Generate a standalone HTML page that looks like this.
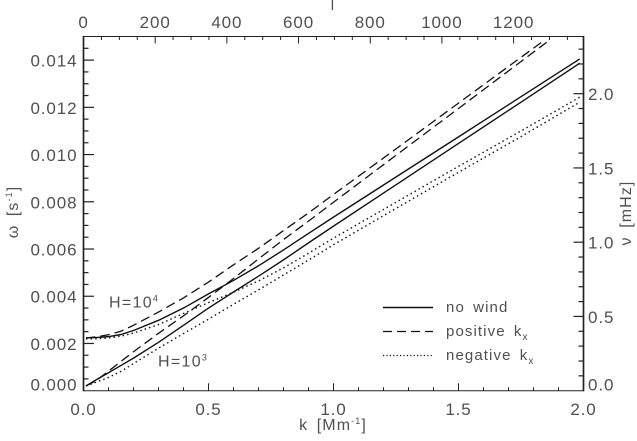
<!DOCTYPE html>
<html lang="en">
<head>
<meta charset="utf-8">
<title>Dispersion relation chart</title>
<style>
  html,body{margin:0;padding:0;background:#fff;width:637px;height:441px;overflow:hidden}
  svg{display:block}
  text{font-family:"Liberation Sans","DejaVu Sans",sans-serif;fill:#505050}
  .tick{font-size:17px;letter-spacing:.9px}
  .leg{font-size:15px;letter-spacing:1.1px;word-spacing:3px}
</style>
</head>
<body>
<svg id="chart" width="637" height="441" viewBox="0 0 637 441" xmlns="http://www.w3.org/2000/svg">
  <g id="grid-axes"></g>
  <g id="series"></g>

  <text class="leg" x="109" y="307.5" style="font-size:16px;letter-spacing:1.3px">H=10<tspan dy="-6" style="font-size:9px">4</tspan></text>
  <text class="leg" x="158" y="366.5" style="font-size:16px;letter-spacing:1.3px">H=10<tspan dy="-6" style="font-size:9px">3</tspan></text>

  <g>
    <line x1="383" x2="433" y1="307.5" y2="307.5" stroke="#111" stroke-width="1.5"/>
    <text class="leg" x="446" y="312">no wind</text>
    <line x1="383" x2="433" y1="331.5" y2="331.5" stroke="#111" stroke-width="1.2" stroke-dasharray="9 5"/>
    <text class="leg" x="446" y="336">positive k<tspan dy="4" style="font-size:10px">x</tspan></text>
    <line x1="383" x2="433" y1="355.5" y2="355.5" stroke="#111" stroke-width="1.2" stroke-dasharray="1.2 2.2"/>
    <text class="leg" x="446" y="360">negative k<tspan dy="4" style="font-size:10px">x</tspan></text>
  </g>

  <text class="leg" x="333" y="430" text-anchor="middle" style="font-size:16px">k [Mm<tspan dy="-6" style="font-size:9px">-1</tspan><tspan dy="6">]</tspan></text>
  <text class="leg" x="333" y="10" text-anchor="middle" style="font-size:15px">l</text>
  <text class="leg" transform="translate(18,212) rotate(-90)" text-anchor="middle" style="font-size:16px">ω [s<tspan dy="-6" style="font-size:9px">-1</tspan><tspan dy="6">]</tspan></text>
  <text class="leg" transform="translate(631,213) rotate(-90)" text-anchor="middle" style="font-size:16px">ν [mHz]</text>
</svg>
<script>
// Shared wavenumber samples (Mm^-1)
const kGrid = [0.01,0.05,0.1,0.15,0.2,0.3,0.4,0.5,0.6,0.7,0.8,0.9,1,1.25,1.5,1.75,1.985];
const kDashedUpper = [0.01,0.05,0.1,0.15,0.2,0.3,0.4,0.5,0.6,0.7,0.8,0.9,1,1.25,1.5,1.75,1.833];
const kDashedLower = [0.01,0.05,0.1,0.15,0.2,0.3,0.4,0.5,0.6,0.7,0.8,0.9,1,1.25,1.5,1.75,1.866];

// omega values in units of 1e-3 s^-1
const noWindH4 = [2.24,2.25,2.29,2.38,2.55,2.98,3.5,4.1,4.67,5.29,5.96,6.66,7.35,9.05,10.75,12.45,14.05];
const noWindH3 = [0.2,0.46,0.76,1.07,1.38,2.05,2.77,3.5,4.18,4.85,5.54,6.26,6.97,8.72,10.47,12.22,13.87];
const positiveH4 = [2.23,2.28,2.37,2.52,2.77,3.33,3.93,4.6,5.33,6.03,6.78,7.53,8.31,10.24,12.18,14.12,14.76];
const positiveH3 = [0.2,0.42,0.83,1.24,1.65,2.43,3.17,3.95,4.75,5.58,6.4,7.18,7.98,9.97,11.95,13.94,14.86];
const negativeH4 = [2.2,2.2,2.23,2.31,2.44,2.8,3.27,3.73,4.17,4.65,5.2,5.82,6.46,7.98,9.5,11.0,12.43];
const negativeH3 = [0.2,0.36,0.56,0.82,1.15,1.8,2.42,3.03,3.66,4.27,4.9,5.53,6.18,7.72,9.25,10.76,12.22];

// Axis tick labels
const bottomTicks = ['0.0','0.5','1.0','1.5','2.0'];
const topTicks = ['0','200','400','600','800','1000','1200'];
const leftTicks = ['0.000','0.002','0.004','0.006','0.008','0.010','0.012','0.014'];
const rightTicks = ['0.0','0.5','1.0','1.5','2.0'];

const L = 83.5, R = 583.5, T = 36.5, B = 390.7;
const xK = k => L + (k / 2) * (R - L);
const yW = w => B - (w / 15) * (B - T);
const xL = l => L + (l / 1395) * (R - L);
const yN = n => B - (n / 2.385) * (B - T);

const NS = 'http://www.w3.org/2000/svg';
const axes = document.getElementById('grid-axes');
const seriesGroup = document.getElementById('series');

function axisLine(x1, y1, x2, y2, w, name) {
  const el = document.createElementNS(NS, 'line');
  el.setAttribute('x1', x1);
  el.setAttribute('y1', y1);
  el.setAttribute('x2', x2);
  el.setAttribute('y2', y2);
  el.setAttribute('stroke', '#222');
  el.setAttribute('stroke-width', w);
  
  
  axes.appendChild(el);
}
function tickText(x, y, str, anchor, name) {
  const el = document.createElementNS(NS, 'text');
  el.setAttribute('x', x);
  el.setAttribute('y', y);
  el.setAttribute('text-anchor', anchor);
  el.setAttribute('class', 'tick');
  
  
  el.textContent = str;
  axes.appendChild(el);
}

axisLine(L, T, R, T, 1, 'top-axis-line');
axisLine(L, B, R, B, 1, 'bottom-axis-line');
axisLine(L, T - .5, L, B + .5, 1.7, 'left-axis-line');
axisLine(R, T - .5, R, B + .5, 1.7, 'right-axis-line');

// bottom axis: major every 0.5, minor every 0.1
for (let i = 0; i <= 20; i++) {
  const k = i * 0.1;
  const major = i % 5 === 0;
  if (i > 0 && i < 20) axisLine(xK(k), B, xK(k), B - (major ? 7.5 : 3.5), 1, 'bottom-tick');
}
bottomTicks.forEach(s => {
  tickText(xK(parseFloat(s)), 415, s, 'middle', 'bottom-tick-label');
});

// top axis: major every 200, minor every 50
for (let l = 0; l <= 1350; l += 50) {
  if (l === 0) continue;
  axisLine(xL(l), T, xL(l), T + (l % 200 === 0 ? 7 : 3.5), 1, 'top-tick');
}
topTicks.forEach(s => {
  tickText(xL(parseFloat(s)), 28, s, 'middle', 'top-tick-label');
});

// left axis: major every 0.002, minor every 0.0005
for (let i = 1; i <= 29; i++) {
  const w = i * 0.5;
  axisLine(L, yW(w), L + (i % 4 === 0 ? 10.5 : 5), yW(w), 1.2, 'left-tick');
}
leftTicks.forEach(s => {
  const v = parseFloat(s) * 1000;
  tickText(77.5, v === 0 ? 390.5 : yW(v) + 6.5, s, 'end', 'left-tick-label');
});

// right axis: major every 0.5, minor every 0.1
for (let i = 1; i <= 23; i++) {
  const n = i * 0.1;
  axisLine(R, yN(n), R - (i % 5 === 0 ? 10 : 5), yN(n), 1.2, 'right-tick');
}
rightTicks.forEach(s => {
  const v = parseFloat(s);
  tickText(588, v === 0 ? 390.5 : yN(v) + 6.5, s, 'start', 'right-tick-label');
});

function drawCurve(ks, vals, dash, width, name) {
  const el = document.createElementNS(NS, 'polyline');
  el.setAttribute('points', ks.map((k, i) => xK(k).toFixed(2) + ',' + yW(vals[i]).toFixed(2)).join(' '));
  el.setAttribute('fill', 'none');
  el.setAttribute('stroke', '#111');
  el.setAttribute('stroke-width', width);
  el.setAttribute('stroke-linejoin', 'round');
  if (dash) el.setAttribute('stroke-dasharray', dash);
  
  
  seriesGroup.appendChild(el);
}

drawCurve(kGrid, noWindH4, null, 1.4, 'no-wind-h1e4');
drawCurve(kGrid, noWindH3, null, 1.4, 'no-wind-h1e3');
drawCurve(kDashedUpper, positiveH4, '9.5 5', 1.3, 'positive-kx-h1e4');
drawCurve(kDashedLower, positiveH3, '9.5 5', 1.3, 'positive-kx-h1e3');
drawCurve(kGrid, negativeH4, '1.5 3.1', 1.4, 'negative-kx-h1e4');
drawCurve(kGrid, negativeH3, '1.5 3.1', 1.4, 'negative-kx-h1e3');
</script>
</body>
</html>
